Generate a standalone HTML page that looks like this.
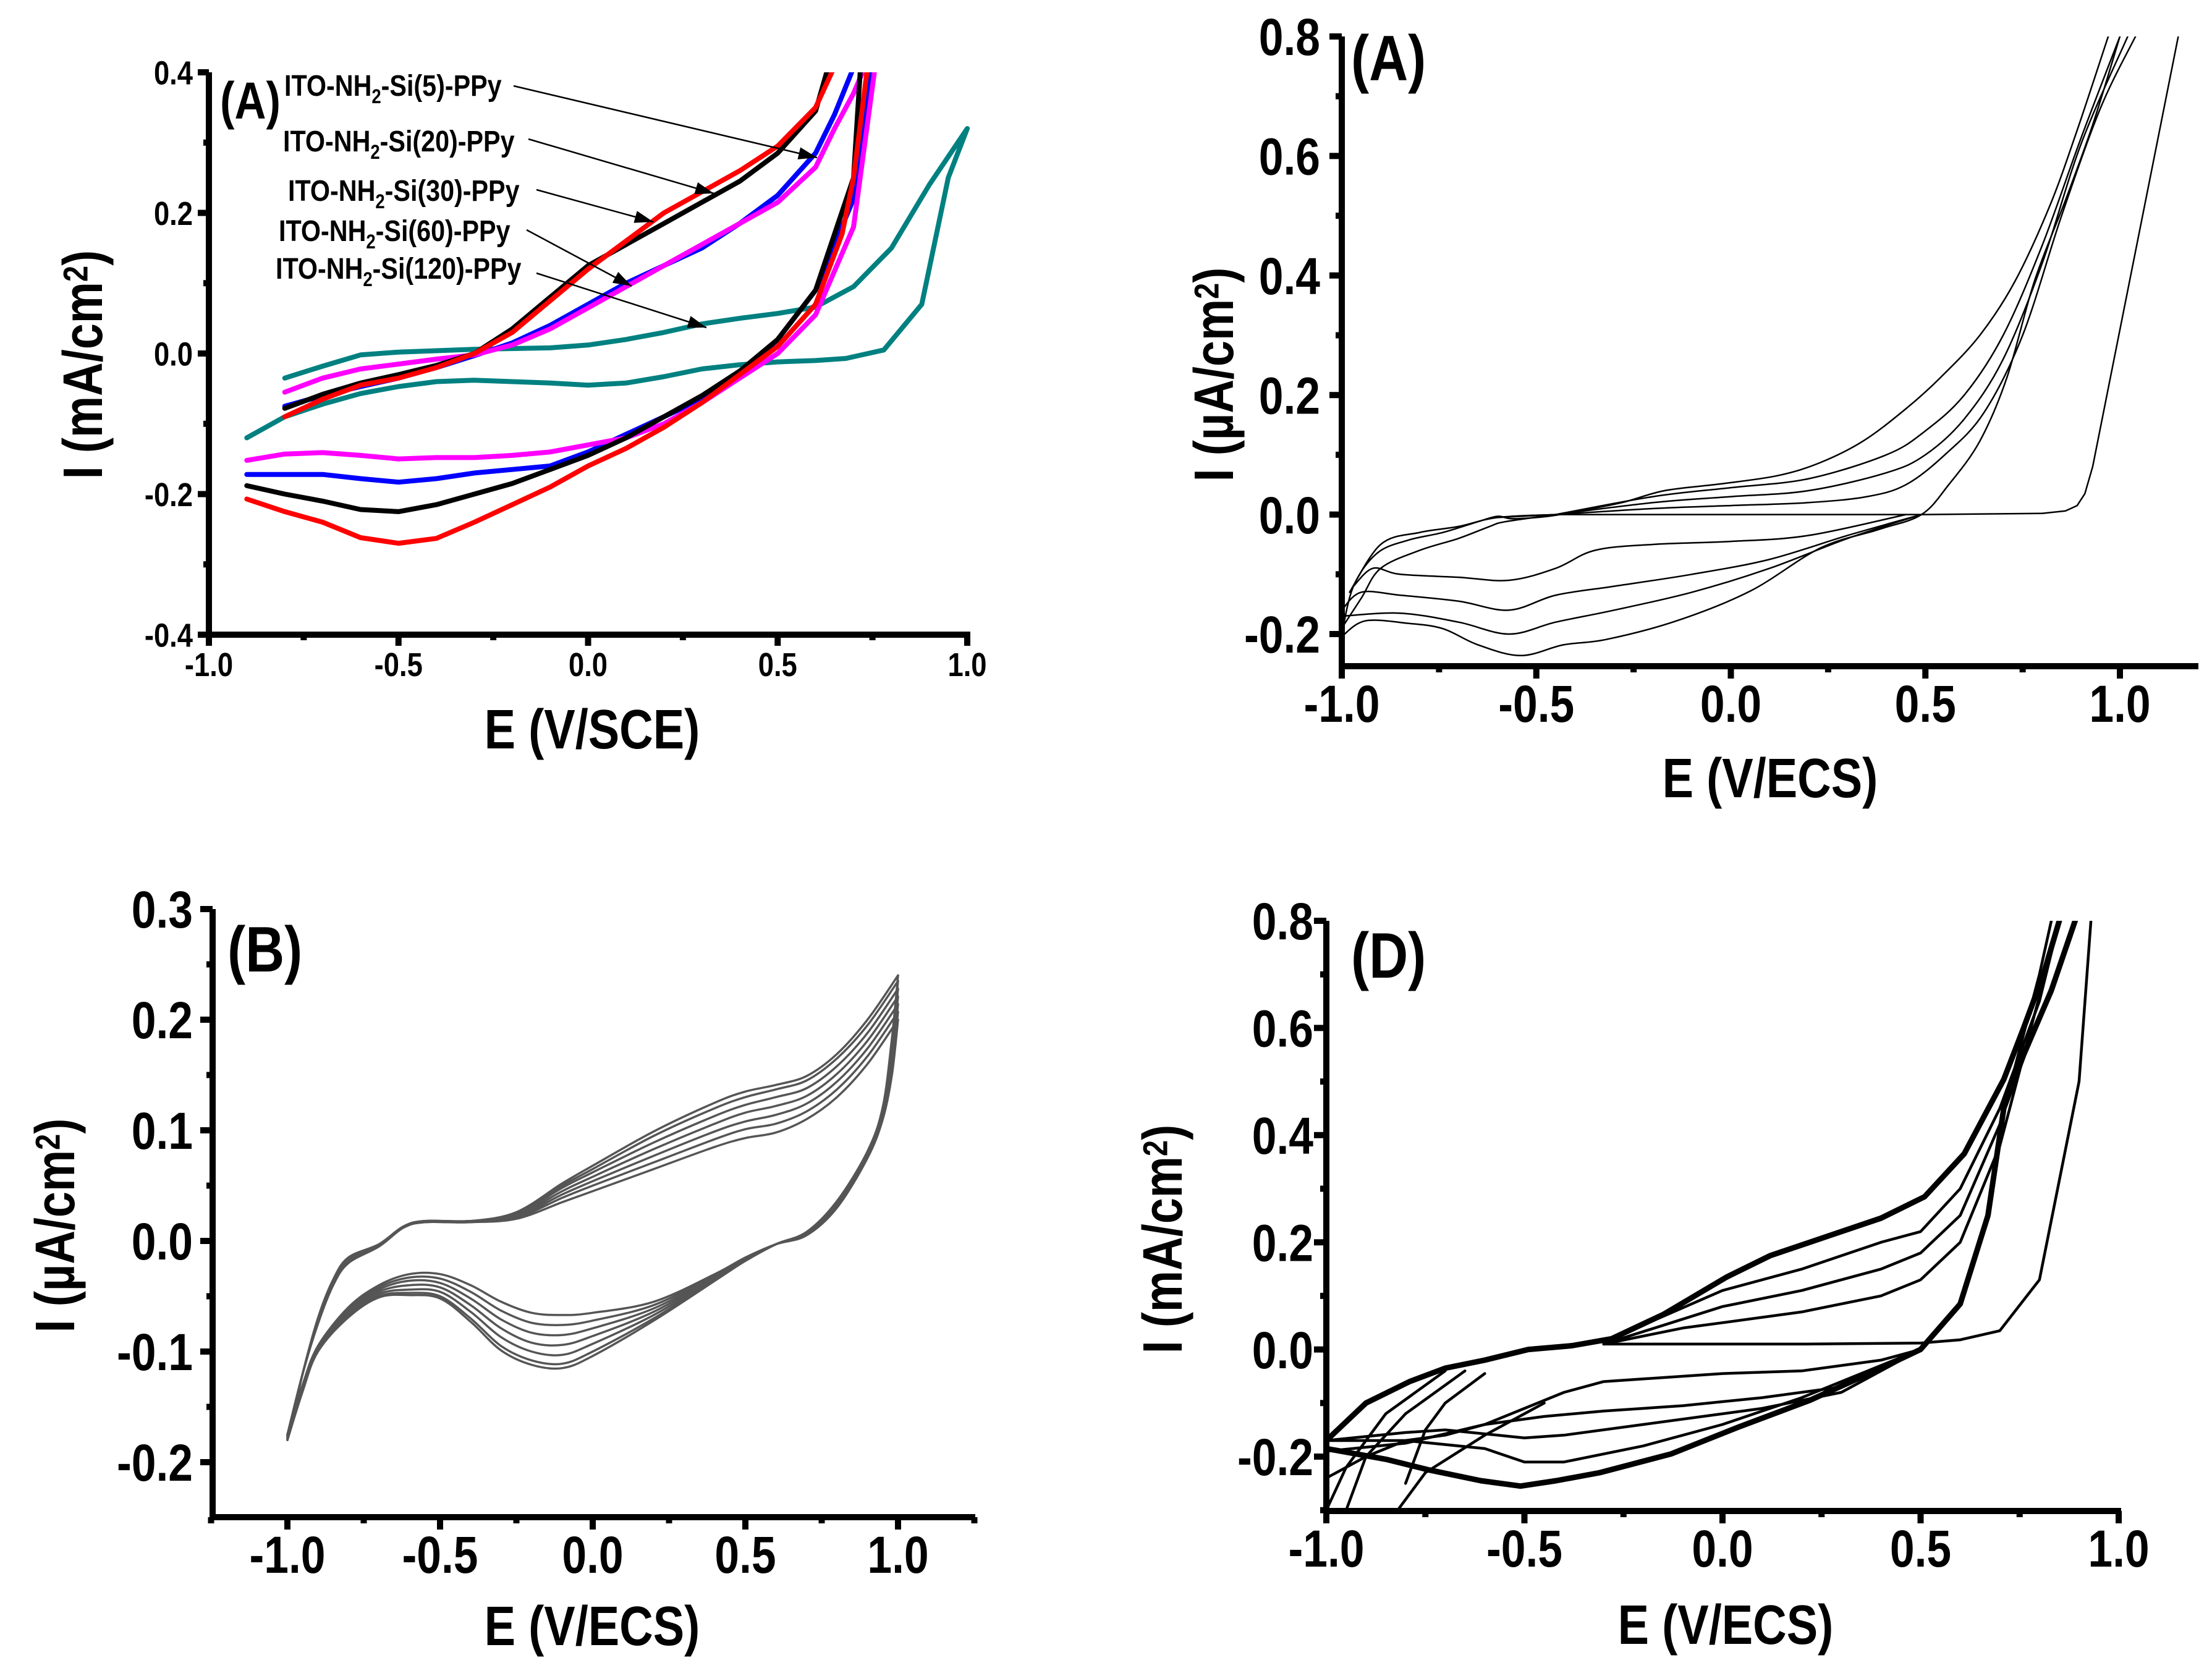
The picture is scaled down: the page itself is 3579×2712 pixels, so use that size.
<!DOCTYPE html>
<html><head><meta charset="utf-8"><style>
html,body{margin:0;padding:0;background:#fff;}
svg{display:block;}
text{font-family:"Liberation Sans",sans-serif;font-weight:bold;fill:#000;}
</style></head>
<body>
<svg id="fig" xmlns="http://www.w3.org/2000/svg" width="3579" height="2712" viewBox="0 0 3579 2712">
<rect width="3579" height="2712" fill="#fff"/>
<defs>
<clipPath id="c1"><rect x="338" y="117" width="1240" height="910"/></clipPath>
<clipPath id="c2"><rect x="2168" y="59" width="1392" height="1019"/></clipPath>
<clipPath id="c4"><rect x="2146" y="1490" width="1290" height="954"/></clipPath>
</defs>
</svg>
<script>
// ---------- Panel 1 data (top-left) ----------
const p1RedUpX=[-0.8,-0.7,-0.6,-0.5,-0.4,-0.3,-0.2,-0.1,0,0.1,0.2,0.3,0.4,0.5,0.6,0.66];
const p1RedUpY=[-0.09,-0.065,-0.045,-0.035,-0.02,0,0.03,0.075,0.12,0.16,0.2,0.23,0.26,0.295,0.35,0.42];
const p1RedDnX=[0.74,0.7,0.67,0.6,0.5,0.4,0.3,0.2,0.1,0,-0.1,-0.2,-0.3,-0.4,-0.5,-0.6,-0.7,-0.8,-0.9];
const p1RedDnY=[0.42,0.25,0.17,0.07,0.01,-0.03,-0.07,-0.105,-0.135,-0.16,-0.19,-0.215,-0.24,-0.263,-0.27,-0.262,-0.24,-0.225,-0.207];
const p1BlkUpX=[-0.8,-0.7,-0.6,-0.5,-0.4,-0.3,-0.2,-0.1,0,0.1,0.2,0.3,0.4,0.5,0.6,0.64];
const p1BlkUpY=[-0.078,-0.058,-0.042,-0.03,-0.017,0,0.035,0.08,0.125,0.155,0.185,0.215,0.245,0.285,0.345,0.42];
const p1BlkDnX=[0.72,0.7,0.6,0.5,0.4,0.3,0.2,0.1,0,-0.1,-0.2,-0.3,-0.4,-0.5,-0.6,-0.7,-0.8,-0.9];
const p1BlkDnY=[0.42,0.25,0.09,0.02,-0.025,-0.06,-0.09,-0.12,-0.145,-0.165,-0.185,-0.2,-0.215,-0.225,-0.222,-0.21,-0.2,-0.188];
const p1BluUpX=[-0.8,-0.7,-0.6,-0.5,-0.4,-0.3,-0.2,-0.1,0,0.1,0.2,0.3,0.4,0.5,0.6,0.65,0.71];
const p1BluUpY=[-0.075,-0.06,-0.047,-0.035,-0.02,-0.003,0.015,0.04,0.07,0.1,0.125,0.15,0.185,0.225,0.285,0.34,0.42];
const p1BluDnX=[0.75,0.7,0.6,0.5,0.4,0.3,0.2,0.1,0,-0.1,-0.2,-0.3,-0.4,-0.5,-0.6,-0.7,-0.8,-0.9];
const p1BluDnY=[0.42,0.22,0.09,0.02,-0.03,-0.065,-0.09,-0.115,-0.14,-0.16,-0.165,-0.17,-0.178,-0.183,-0.178,-0.172,-0.172,-0.172];
const p1MagUpX=[-0.8,-0.7,-0.6,-0.5,-0.4,-0.3,-0.2,-0.1,0,0.1,0.2,0.3,0.4,0.5,0.6,0.65,0.7,0.74];
const p1MagUpY=[-0.055,-0.035,-0.022,-0.015,-0.008,-0.002,0.012,0.035,0.065,0.095,0.125,0.155,0.185,0.215,0.265,0.32,0.37,0.42];
const p1MagDnX=[0.76,0.7,0.6,0.5,0.4,0.3,0.2,0.1,0,-0.1,-0.2,-0.3,-0.4,-0.5,-0.6,-0.7,-0.8,-0.9];
const p1MagDnY=[0.42,0.18,0.055,0,-0.035,-0.07,-0.1,-0.12,-0.13,-0.14,-0.145,-0.148,-0.148,-0.15,-0.145,-0.141,-0.143,-0.152];
const p1TealUpX=[-0.8,-0.7,-0.6,-0.5,-0.4,-0.3,-0.2,-0.1,0,0.1,0.2,0.3,0.4,0.5,0.6,0.7,0.8,0.9,1.0];
const p1TealUpY=[-0.035,-0.018,-0.002,0.002,0.004,0.006,0.007,0.008,0.012,0.02,0.03,0.042,0.05,0.057,0.066,0.095,0.15,0.24,0.32];
const p1TealDnX=[1.0,0.95,0.88,0.78,0.68,0.6,0.5,0.4,0.3,0.2,0.1,0,-0.1,-0.2,-0.3,-0.4,-0.5,-0.6,-0.7,-0.8,-0.9];
const p1TealDnY=[0.32,0.25,0.07,0.005,-0.007,-0.01,-0.012,-0.016,-0.022,-0.033,-0.042,-0.045,-0.042,-0.04,-0.038,-0.04,-0.047,-0.057,-0.072,-0.09,-0.12];
const p1Legend=["(5)","(20)","(30)","(60)","(120)"];

// ---------- Panel 2 data (top-right) ----------
const p2OutUpX=[-1,-0.97,-0.91,-0.83,-0.74,-0.65,-0.6,-0.56,-0.47,-0.39,-0.28,-0.17,-0.03,0.12,0.23,0.34,0.45,0.54,0.64,0.73,0.82,0.89,0.97];
const p2OutUpY=[-0.2,-0.12,-0.065,-0.043,-0.03,-0.012,-0.003,-0.007,-0.003,0.006,0.02,0.04,0.051,0.065,0.087,0.123,0.177,0.23,0.3,0.39,0.517,0.643,0.8];
const p2OutDnX=[1.0,0.93,0.86,0.78,0.71,0.64,0.56,0.49,0.38,0.23,0.05,-0.14,-0.32,-0.43,-0.54,-0.65,-0.74,-0.83,-0.94,-1];
const p2OutDnY=[0.8,0.652,0.526,0.39,0.23,0.123,0.05,0,-0.025,-0.056,-0.128,-0.178,-0.209,-0.218,-0.236,-0.218,-0.191,-0.182,-0.178,-0.204];
const p2Up2X=[-0.45,-0.2,0,0.2,0.4,0.5,0.6,0.7,0.8,0.9,1.0];
const p2Up2Y=[0,0.03,0.045,0.06,0.1,0.14,0.2,0.3,0.45,0.63,0.8];
const p2Up3X=[-0.45,-0.2,0,0.2,0.4,0.5,0.6,0.7,0.8,0.9,1.02];
const p2Up3Y=[0,0.02,0.03,0.04,0.07,0.1,0.16,0.26,0.42,0.62,0.8];
const p2Up4X=[-0.45,-0.2,0,0.2,0.35,0.45,0.55,0.65,0.75,0.85,0.95,1.04];
const p2Up4Y=[0,0.01,0.015,0.02,0.03,0.05,0.1,0.17,0.3,0.5,0.68,0.8];
const p2FirstX=[-0.6,-0.45,0,0.5,0.8,0.86,0.89,0.91,0.93,1.15];
const p2FirstY=[-0.005,0,0,0,0.002,0.006,0.015,0.035,0.08,0.8];
const p2Dn2X=[0.49,0.3,0.1,-0.1,-0.3,-0.45,-0.57,-0.7,-0.85,-1];
const p2Dn2Y=[0,-0.04,-0.09,-0.13,-0.16,-0.18,-0.2,-0.18,-0.165,-0.17];
const p2Dn3X=[0.49,0.3,0.1,-0.1,-0.3,-0.45,-0.57,-0.7,-0.85,-0.95,-1];
const p2Dn3Y=[0,-0.035,-0.075,-0.1,-0.12,-0.135,-0.16,-0.145,-0.135,-0.13,-0.16];
const p2Dn4X=[0.45,0.2,0,-0.2,-0.35,-0.45,-0.57,-0.7,-0.85,-0.92,-0.97];
const p2Dn4Y=[0,-0.035,-0.045,-0.05,-0.06,-0.09,-0.11,-0.105,-0.1,-0.09,-0.12];
const p2LeftAX=[-1,-0.95,-0.9,-0.8,-0.7,-0.62,-0.58,-0.45];
const p2LeftAY=[-0.19,-0.14,-0.09,-0.06,-0.04,-0.02,-0.012,0];
const p2LeftBX=[-0.98,-0.9,-0.8,-0.7,-0.6,-0.45];
const p2LeftBY=[-0.13,-0.05,-0.03,-0.02,-0.005,0];

// ---------- Panel 3 data (bottom-left) ----------
const p3UpX=[-1,-0.95,-0.9,-0.85,-0.8,-0.7,-0.62,-0.55,-0.4,-0.25,-0.1,0,0.2,0.4,0.5,0.6,0.7,0.8,0.9,1.0];
const p3Up0=[-0.175,-0.12,-0.075,-0.04,-0.02,-0.005,0.012,0.017,0.017,0.02,0.035,0.045,0.065,0.085,0.093,0.098,0.11,0.13,0.16,0.2];
const p3Up1=[-0.176,-0.12,-0.074,-0.039,-0.019,-0.005,0.012,0.017,0.017,0.021,0.039,0.05,0.071,0.092,0.101,0.106,0.117,0.137,0.167,0.207];
const p3Up2=[-0.177,-0.12,-0.073,-0.038,-0.018,-0.004,0.012,0.017,0.017,0.022,0.042,0.054,0.077,0.099,0.108,0.114,0.124,0.144,0.174,0.214];
const p3Up3=[-0.178,-0.12,-0.072,-0.037,-0.017,-0.004,0.013,0.018,0.018,0.023,0.045,0.058,0.083,0.106,0.116,0.122,0.131,0.151,0.181,0.221];
const p3Up4=[-0.179,-0.12,-0.071,-0.036,-0.016,-0.003,0.013,0.018,0.018,0.024,0.048,0.062,0.089,0.113,0.123,0.13,0.138,0.158,0.188,0.228];
const p3Up5=[-0.18,-0.12,-0.07,-0.035,-0.015,-0.003,0.013,0.018,0.018,0.025,0.05,0.065,0.095,0.12,0.13,0.137,0.145,0.165,0.195,0.235];
const p3Up6=[-0.18,-0.12,-0.07,-0.035,-0.015,-0.003,0.013,0.018,0.018,0.026,0.052,0.068,0.099,0.125,0.135,0.141,0.149,0.169,0.2,0.24];
const p3DnX=[1.0,0.98,0.95,0.9,0.8,0.7,0.6,0.5,0.4,0.2,0,-0.1,-0.2,-0.3,-0.4,-0.5,-0.6,-0.7,-0.8,-0.9,-0.95,-1.0];
const p3Dn0=[0.2,0.15,0.11,0.075,0.03,0.005,-0.003,-0.015,-0.03,-0.055,-0.065,-0.067,-0.065,-0.055,-0.04,-0.03,-0.03,-0.04,-0.06,-0.095,-0.13,-0.175];
const p3Dn1=[0.207,0.156,0.112,0.076,0.031,0.006,-0.003,-0.016,-0.031,-0.058,-0.072,-0.076,-0.074,-0.063,-0.046,-0.034,-0.033,-0.042,-0.062,-0.096,-0.131,-0.176];
const p3Dn2=[0.214,0.162,0.114,0.077,0.032,0.006,-0.003,-0.016,-0.032,-0.061,-0.079,-0.085,-0.083,-0.071,-0.052,-0.038,-0.036,-0.044,-0.064,-0.097,-0.132,-0.177];
const p3Dn3=[0.221,0.168,0.116,0.078,0.033,0.007,-0.003,-0.017,-0.033,-0.064,-0.086,-0.094,-0.092,-0.079,-0.058,-0.042,-0.04,-0.046,-0.065,-0.098,-0.133,-0.178];
const p3Dn4=[0.228,0.174,0.118,0.079,0.034,0.007,-0.003,-0.017,-0.034,-0.067,-0.093,-0.103,-0.1,-0.087,-0.064,-0.046,-0.044,-0.048,-0.067,-0.099,-0.134,-0.179];
const p3Dn5=[0.235,0.18,0.12,0.08,0.035,0.008,-0.003,-0.018,-0.035,-0.07,-0.1,-0.111,-0.108,-0.095,-0.07,-0.05,-0.047,-0.05,-0.068,-0.1,-0.135,-0.18];
const p3Dn6=[0.24,0.183,0.121,0.081,0.036,0.008,-0.003,-0.018,-0.036,-0.072,-0.104,-0.115,-0.112,-0.099,-0.073,-0.052,-0.049,-0.051,-0.069,-0.1,-0.136,-0.18];

// ---------- Panel 4 data (bottom-right) ----------
const p4OutUpX=[-1,-0.9,-0.79,-0.7,-0.6,-0.49,-0.38,-0.28,-0.15,0.01,0.12,0.26,0.4,0.51,0.61,0.71,0.76,0.81,0.85];
const p4OutUpY=[-0.17,-0.1,-0.06,-0.035,-0.02,0,0.007,0.02,0.065,0.135,0.175,0.21,0.245,0.285,0.365,0.504,0.6,0.7,0.8];
const p4OutDnX=[0.89,0.83,0.76,0.71,0.67,0.6,0.5,0.4,0.22,0.04,-0.13,-0.31,-0.42,-0.51,-0.61,-0.74,-0.85,-1];
const p4OutDnY=[0.8,0.67,0.55,0.45,0.25,0.085,0,-0.035,-0.095,-0.145,-0.195,-0.23,-0.245,-0.255,-0.245,-0.225,-0.205,-0.185];
const p4Up2X=[-0.28,0,0.2,0.4,0.5,0.6,0.7,0.8,0.85];
const p4Up2Y=[0.02,0.11,0.15,0.2,0.22,0.3,0.45,0.65,0.8];
const p4Up3X=[-0.3,0,0.2,0.4,0.5,0.6,0.7,0.8,0.83];
const p4Up3Y=[0.01,0.08,0.11,0.15,0.18,0.25,0.42,0.7,0.8];
const p4Up4X=[-0.3,-0.1,0,0.2,0.4,0.5,0.6,0.7,0.85];
const p4Up4Y=[0.01,0.04,0.05,0.07,0.1,0.13,0.2,0.38,0.8];
const p4Up5X=[-0.3,0,0.2,0.5,0.6,0.7,0.8,0.9,0.93];
const p4Up5Y=[0.01,0.01,0.01,0.012,0.018,0.035,0.13,0.5,0.8];
const p4Dn2X=[0.5,0.4,0.2,0,-0.2,-0.3,-0.4,-0.5,-0.6,-0.7,-0.8,-1];
const p4Dn2Y=[0,-0.02,-0.04,-0.045,-0.055,-0.06,-0.08,-0.11,-0.14,-0.16,-0.17,-0.17];
const p4Dn3X=[0.5,0.3,0.1,-0.1,-0.3,-0.45,-0.6,-0.8,-1];
const p4Dn3Y=[0,-0.07,-0.09,-0.105,-0.115,-0.125,-0.14,-0.175,-0.19];
const p4Dn4X=[0.5,0.3,0.1,-0.2,-0.4,-0.5,-0.7,-0.8,-1];
const p4Dn4Y=[0,-0.08,-0.11,-0.14,-0.16,-0.165,-0.15,-0.155,-0.17];
const p4Dn5X=[0.5,0.2,0,-0.2,-0.4,-0.5,-0.6,-0.8,-0.9,-1];
const p4Dn5Y=[0,-0.09,-0.14,-0.18,-0.21,-0.21,-0.185,-0.17,-0.2,-0.24];
const p4D1X=[-0.6,-0.7,-0.75,-0.8]; const p4D1Y=[-0.045,-0.1,-0.15,-0.25];
const p4D2X=[-0.65,-0.8,-0.9,-0.95]; const p4D2Y=[-0.04,-0.12,-0.2,-0.3];
const p4D3X=[-0.7,-0.85,-0.95,-1]; const p4D3Y=[-0.04,-0.12,-0.22,-0.3];
const p4D4X=[-0.45,-0.6,-0.75,-0.82]; const p4D4Y=[-0.1,-0.16,-0.23,-0.3];

const NS="http://www.w3.org/2000/svg";
const svg=document.getElementById('fig');
function el(tag,attrs,parent){const e=document.createElementNS(NS,tag);for(const k in attrs)e.setAttribute(k,attrs[k]);(parent||svg).appendChild(e);return e;}
function lin(d0,d1,p0,p1){return v=>p0+(v-d0)*(p1-p0)/(d1-d0);}
function txt(parent,html,x,y,size,anchor,sx,rot){
  const t=el('text',{transform:`translate(${x},${y}) rotate(${rot||0}) scale(${sx},1)`,'font-size':size,'text-anchor':anchor},parent);
  t.innerHTML=html;return t;}
function pathPoly(xs,ys,X,Y){return xs.map((v,i)=>(i?'L':'M')+X(v).toFixed(1)+','+Y(ys[i]).toFixed(1)).join('');}
function pathSmooth(xs,ys,X,Y){
  const P=xs.map((v,i)=>[X(v),Y(ys[i])]);let d='M'+P[0][0]+','+P[0][1];
  for(let i=0;i<P.length-1;i++){const p0=P[Math.max(0,i-1)],p1=P[i],p2=P[i+1],p3=P[Math.min(P.length-1,i+2)];
    d+='C'+(p1[0]+(p2[0]-p0[0])/6).toFixed(1)+','+(p1[1]+(p2[1]-p0[1])/6).toFixed(1)+' '+(p2[0]-(p3[0]-p1[0])/6).toFixed(1)+','+(p2[1]-(p3[1]-p1[1])/6).toFixed(1)+' '+p2[0].toFixed(1)+','+p2[1].toFixed(1);}
  return d;}

function axes(g,c){
  const X=c.X,Y=c.Y;
  const ax=el('path',{d:`M${c.axX},${c.yTop}V${c.axY}M${c.axX-5},${c.axY}H${c.xEnd}`,stroke:'#000','stroke-width':c.aw,fill:'none'},g);
  
  
  c.xMinor.forEach(v=>{el('line',{x1:X(v),x2:X(v),y1:c.axY,y2:c.axY+c.tm,stroke:'#000','stroke-width':c.aw},g);});
  c.xMajor.forEach((v,i)=>{el('line',{x1:X(v),x2:X(v),y1:c.axY,y2:c.axY+c.tM,stroke:'#000','stroke-width':c.aw},g);
    const t=txt(g,c.xLab[i],X(v),c.xLabY,c.fs,'middle',c.sx);
    
    });
  c.yMinor.forEach(v=>{el('line',{x1:c.axX,x2:c.axX-c.tm,y1:Y(v),y2:Y(v),stroke:'#000','stroke-width':c.aw},g);});
  c.yMajor.forEach((v,i)=>{el('line',{x1:c.axX,x2:c.axX-c.tM,y1:Y(v),y2:Y(v),stroke:'#000','stroke-width':c.aw},g);
    const t=txt(g,c.yLab[i],c.yLabX,Y(v)+c.fs*0.36,c.fs,'end',c.sx);
    
    });
}
function series(g,xs,ys,X,Y,color,w,smooth,name,clip){
  const p=el('path',{d:(smooth?pathSmooth:pathPoly)(xs,ys,X,Y),stroke:color,'stroke-width':w,fill:'none','stroke-linejoin':'round','stroke-linecap':'round'},g);
  if(clip)p.setAttribute('clip-path',`url(#${clip})`);
  
  
  return p;}
function sup(s){return `<tspan dy="-0.42em" font-size="0.62em">${s}</tspan><tspan dy="0.26em">)</tspan>`;}

// ===== Panel 1 =====
const g1=el('g',{});


const X1=lin(-1,1,338,1565),Y1=lin(0.4,-0.4,117,1027);
axes(g1,{X:X1,Y:Y1,axX:338,axY:1027,yTop:117,xEnd:1570,aw:10,tm:9,tM:18,fs:54,sx:0.84,xLabY:1094,yLabX:312,
  xMajor:[-1,-0.5,0,0.5,1],xLab:['-1.0','-0.5','0.0','0.5','1.0'],xMinor:[-0.75,-0.25,0.25,0.75],
  yMajor:[0.4,0.2,0,-0.2,-0.4],yLab:['0.4','0.2','0.0','-0.2','-0.4'],yMinor:[0.3,0.1,-0.1,-0.3]});
series(g1,p1TealUpX.concat(p1TealDnX),p1TealUpY.concat(p1TealDnY),X1,Y1,'#008080',8,false,'series-120',null);
series(g1,p1BluUpX,p1BluUpY,X1,Y1,'#0000ff',8,false,'series-30-up','c1');
series(g1,p1BluDnX,p1BluDnY,X1,Y1,'#0000ff',8,false,'series-30-down','c1');
series(g1,p1MagUpX,p1MagUpY,X1,Y1,'#ff00ff',8,false,'series-60-up','c1');
series(g1,p1MagDnX,p1MagDnY,X1,Y1,'#ff00ff',8,false,'series-60-down','c1');
series(g1,p1BlkUpX,p1BlkUpY,X1,Y1,'#000000',8,false,'series-5-up','c1');
series(g1,p1BlkDnX,p1BlkDnY,X1,Y1,'#000000',8,false,'series-5-down','c1');
series(g1,p1RedUpX,p1RedUpY,X1,Y1,'#ff0000',8,false,'series-20-up','c1');
series(g1,p1RedDnX,p1RedDnY,X1,Y1,'#ff0000',8,false,'series-20-down','c1');
const t1a=txt(g1,'E (V/SCE)',958,1211,90,'middle',0.84);


const t1b=txt(g1,'I (mA/cm'+sup('2'),165,590,90,'middle',0.84,-90);


const t1c=txt(g1,'(A)',356,192,84,'start',0.84);


const legPos=[[460,155,831,139,1322,255],[458,245,855,225,1155,313],[466,325,868,307,1057,359],[451,390,852,372,1022,463],[446,451,868,442,1143,530]];
p1Legend.forEach((s,i)=>{const q=legPos[i];
  const t=txt(g1,`ITO-NH<tspan dy="12" font-size="32">2</tspan><tspan dy="-12">-Si${s}-PPy</tspan>`,q[0],q[1],48,'start',0.86);
  
  
  const ln=el('line',{x1:q[2],y1:q[3],x2:q[4],y2:q[5],stroke:'#000','stroke-width':2.5},g1);
  
  
  const a=Math.atan2(q[5]-q[3],q[4]-q[2]),L=30,W=10;
  const bx=q[4]-L*Math.cos(a),by=q[5]-L*Math.sin(a);
  el('polygon',{points:`${q[4]},${q[5]} ${bx-W*Math.sin(a)},${by+W*Math.cos(a)} ${bx+W*Math.sin(a)},${by-W*Math.cos(a)}`,fill:'#000'},g1);
});

// ===== Panel 2 =====
const g2=el('g',{});


const X2=lin(-1,1,2171,3430),Y2=lin(0.8,-0.2,59,1026);
axes(g2,{X:X2,Y:Y2,axX:2171,axY:1078,yTop:59,xEnd:3557,aw:10,tm:10,tM:20,fs:84,sx:0.85,xLabY:1168,yLabX:2136,
  xMajor:[-1,-0.5,0,0.5,1],xLab:['-1.0','-0.5','0.0','0.5','1.0'],xMinor:[-0.75,-0.25,0.25,0.75],
  yMajor:[0.8,0.6,0.4,0.2,0,-0.2],yLab:['0.8','0.6','0.4','0.2','0.0','-0.2'],yMinor:[0.7,0.5,0.3,0.1,-0.1]});
[[p2OutUpX,p2OutUpY],[p2OutDnX,p2OutDnY],[p2Up2X,p2Up2Y],[p2Up3X,p2Up3Y],[p2Up4X,p2Up4Y],
 [p2Dn2X,p2Dn2Y],[p2Dn3X,p2Dn3Y],[p2Dn4X,p2Dn4Y],[p2LeftAX,p2LeftAY],[p2LeftBX,p2LeftBY]].forEach(s=>{
  series(g2,s[0],s[1],X2,Y2,'#000',2.5,true,'cv-cycle','c2');});
series(g2,p2FirstX,p2FirstY,X2,Y2,'#000',2.5,false,'cv-first-scan','c2');
const t2a=txt(g2,'E (V/ECS)',2864,1290,90,'middle',0.84);


const t2b=txt(g2,'I (µA/cm'+sup('2'),1995,606,90,'middle',0.84,-90);


const t2c=txt(g2,'(A)',2186,130,104,'start',0.84);



// ===== Panel 3 =====
const g3=el('g',{});


const X3=lin(-1,1,465,1453),Y3=lin(0.3,-0.2,1471,2366);
axes(g3,{X:X3,Y:Y3,axX:344,axY:2455,yTop:1471,xEnd:1578,aw:10,tm:10,tM:20,fs:84,sx:0.85,xLabY:2545,yLabX:312,
  xMajor:[-1,-0.5,0,0.5,1],xLab:['-1.0','-0.5','0.0','0.5','1.0'],xMinor:[-1.25,-0.75,-0.25,0.25,0.75,1.25],
  yMajor:[0.3,0.2,0.1,0,-0.1,-0.2],yLab:['0.3','0.2','0.1','0.0','-0.1','-0.2'],yMinor:[0.25,0.15,0.05,-0.05,-0.15]});
[p3Up0,p3Up1,p3Up2,p3Up3,p3Up4,p3Up5,p3Up6].forEach(ys=>{series(g3,p3UpX,ys,X3,Y3,'#555',3.5,true,'cv-cycle-forward',null);});
[p3Dn0,p3Dn1,p3Dn2,p3Dn3,p3Dn4,p3Dn5,p3Dn6].forEach(ys=>{series(g3,p3DnX,ys,X3,Y3,'#555',3.5,true,'cv-cycle-reverse',null);});
const t3a=txt(g3,'E (V/ECS)',958,2662,90,'middle',0.84);


const t3b=txt(g3,'I (µA/cm'+sup('2'),120,1983,90,'middle',0.84,-90);


const t3c=txt(g3,'(B)',368,1572,104,'start',0.84);



// ===== Panel 4 =====
const g4=el('g',{});


const X4=lin(-1,1,2146,3428),Y4=lin(0.8,-0.2,1490,2357);
axes(g4,{X:X4,Y:Y4,axX:2146,axY:2445,yTop:1490,xEnd:3432,aw:10,tm:10,tM:20,fs:84,sx:0.85,xLabY:2535,yLabX:2125,
  xMajor:[-1,-0.5,0,0.5,1],xLab:['-1.0','-0.5','0.0','0.5','1.0'],xMinor:[-0.75,-0.25,0.25,0.75],
  yMajor:[0.8,0.6,0.4,0.2,0,-0.2],yLab:['0.8','0.6','0.4','0.2','0.0','-0.2'],yMinor:[0.7,0.5,0.3,0.1,-0.1,-0.3]});
[[p4OutUpX,p4OutUpY],[p4OutDnX,p4OutDnY],[p4Up2X,p4Up2Y],[p4Up3X,p4Up3Y],[p4Up4X,p4Up4Y],[p4Up5X,p4Up5Y],
 [p4Dn2X,p4Dn2Y],[p4Dn3X,p4Dn3Y],[p4Dn4X,p4Dn4Y],[p4Dn5X,p4Dn5Y],[p4D1X,p4D1Y],[p4D2X,p4D2Y],[p4D3X,p4D3Y],[p4D4X,p4D4Y]].forEach(s=>{
  series(g4,s[0],s[1],X4,Y4,'#000',4.5,false,'cv-cycle','c4');});
series(g4,p4OutUpX,p4OutUpY,X4,Y4,'#000',9,false,'cv-bundle-forward','c4');
series(g4,p4OutDnX,p4OutDnY,X4,Y4,'#000',9,false,'cv-bundle-reverse','c4');
const t4a=txt(g4,'E (V/ECS)',2792,2660,90,'middle',0.84);


const t4b=txt(g4,'I (mA/cm'+sup('2'),1912,2005,90,'middle',0.84,-90);


const t4c=txt(g4,'(D)',2186,1582,104,'start',0.84);


</script>
</body></html>
